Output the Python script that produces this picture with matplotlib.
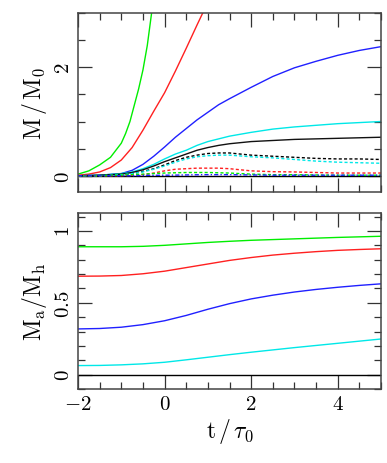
import matplotlib
matplotlib.use("Agg")
import matplotlib.pyplot as plt
from matplotlib.ticker import MultipleLocator, FixedLocator

plt.rcParams['mathtext.fontset'] = 'cm'
plt.rcParams['font.family'] = 'serif'
plt.rcParams['font.serif'] = ['DejaVu Serif']

# top panel: M/M0 (solid = total, dotted = second component)
t_green = [-2.0, -1.75, -1.5, -1.25, -1.0, -0.9, -0.8, -0.7, -0.6, -0.5, -0.4, -0.3, -0.25]
m_green = [0.03, 0.09, 0.2, 0.34, 0.6, 0.78, 1.0, 1.3, 1.6, 1.95, 2.4, 3.0, 3.3]
t_red = [-2.0, -1.75, -1.5, -1.25, -1.0, -0.75, -0.5, -0.25, 0.0, 0.25, 0.5, 0.75, 1.0]
m_red = [0.01, 0.03, 0.07, 0.15, 0.29, 0.52, 0.84, 1.19, 1.53, 1.93, 2.35, 2.78, 3.2]

t = [-2.0, -1.5, -1.0, -0.75, -0.5, -0.25, 0.0, 0.25, 0.5, 0.75, 1.0, 1.25, 1.5,
     2.0, 2.5, 3.0, 3.5, 4.0, 4.5, 5.0]
m_blue = [0.0, 0.01, 0.04, 0.1, 0.21, 0.36, 0.53, 0.71, 0.87, 1.03, 1.17, 1.31, 1.42,
          1.63, 1.83, 1.99, 2.11, 2.22, 2.31, 2.38]
m_cyan = [0.0, 0.01, 0.04, 0.07, 0.13, 0.21, 0.31, 0.4, 0.47, 0.56, 0.63, 0.68, 0.73,
          0.8, 0.86, 0.9, 0.93, 0.96, 0.98, 1.0]
m_black = [0.0, 0.01, 0.03, 0.06, 0.11, 0.18, 0.26, 0.33, 0.4, 0.47, 0.52, 0.56, 0.59,
           0.63, 0.65, 0.67, 0.68, 0.69, 0.70, 0.71]

d_black = [0.0, 0.0, 0.02, 0.04, 0.08, 0.13, 0.2, 0.28, 0.34, 0.38, 0.41, 0.42, 0.42,
           0.38, 0.36, 0.34, 0.32, 0.31, 0.31, 0.30]
d_cyan = [0.0, 0.0, 0.02, 0.04, 0.07, 0.12, 0.18, 0.25, 0.31, 0.35, 0.37, 0.38, 0.38,
          0.35, 0.33, 0.30, 0.27, 0.25, 0.24, 0.23]
d_red = [0.0, 0.0, 0.0, 0.01, 0.02, 0.05, 0.09, 0.12, 0.13, 0.14, 0.14, 0.14, 0.13,
         0.09, 0.075, 0.07, 0.06, 0.05, 0.05, 0.05]
d_green = [0.0, 0.0, 0.01, 0.02, 0.03, 0.04, 0.05, 0.055, 0.06, 0.06, 0.06, 0.055, 0.05,
           0.03, 0.02, 0.02, 0.015, 0.01, 0.01, 0.01]
d_blue = [0.0, 0.0, 0.0, 0.0, 0.005, 0.008, 0.01, 0.012, 0.015, 0.018, 0.02, 0.02, 0.02,
          0.015, 0.01, 0.01, 0.01, 0.01, 0.01, 0.01]

# bottom panel: Ma/Mh
t2 = [-2.0, -1.5, -1.0, -0.5, 0.0, 0.5, 1.0, 1.5, 2.0, 2.5, 3.0, 3.5, 4.0, 4.5, 5.0]
f_green = [0.89, 0.89, 0.89, 0.893, 0.90, 0.91, 0.92, 0.928, 0.935, 0.94, 0.945, 0.95,
           0.955, 0.959, 0.963]
f_red = [0.685, 0.686, 0.69, 0.702, 0.72, 0.745, 0.77, 0.795, 0.815, 0.832, 0.845, 0.856,
         0.865, 0.871, 0.876]
f_blue = [0.318, 0.321, 0.33, 0.348, 0.375, 0.412, 0.455, 0.494, 0.527, 0.553, 0.575, 0.593,
          0.608, 0.621, 0.632]
f_cyan = [0.063, 0.064, 0.068, 0.075, 0.086, 0.103, 0.121, 0.139, 0.156, 0.172, 0.188,
          0.203, 0.218, 0.233, 0.248]

fig = plt.figure(figsize=(3.87, 4.64), dpi=100)
ax1 = fig.add_axes([0.2016, 0.584, 0.7829, 0.3858])
ax2 = fig.add_axes([0.2016, 0.1595, 0.7829, 0.3793])

lw = 1.0
dot = (0, (2.2, 1.6))
ax1.axhline(0, color='black', lw=1.0)
ax1.plot(t_green, m_green, color='#00ee00', lw=lw)
ax1.plot(t_red, m_red, color='#ff2020', lw=lw)
ax1.plot(t, m_blue, color='#2020ff', lw=lw)
ax1.plot(t, m_cyan, color='#00e8e8', lw=lw)
ax1.plot(t, m_black, color='#111111', lw=lw)
ax1.plot(t, d_black, color='black', lw=lw, ls=dot)
ax1.plot(t, d_cyan, color='#00e8e8', lw=lw, ls=dot)
ax1.plot(t, d_red, color='#ff2020', lw=lw, ls=dot)
ax1.plot(t, d_green, color='#00ee00', lw=lw, ls=dot)
ax1.plot(t, d_blue, color='#2020ff', lw=lw, ls=(0, (3, 1.5, 1, 1.5)))

ax2.axhline(0, color='black', lw=1.0)
ax2.plot(t2, f_green, color='#00ee00', lw=lw)
ax2.plot(t2, f_red, color='#ff2020', lw=lw)
ax2.plot(t2, f_blue, color='#2020ff', lw=lw)
ax2.plot(t2, f_cyan, color='#00e8e8', lw=lw)

ax1.set_xlim(-2, 5)
ax1.set_ylim(-0.3, 3)
ax2.set_xlim(-2, 5)
ax2.set_ylim(-0.1, 1.125)

for ax in (ax1, ax2):
    ax.xaxis.set_major_locator(MultipleLocator(2))
    ax.xaxis.set_minor_locator(MultipleLocator(0.5))
    ax.tick_params(which='both', direction='in', top=True, right=True, width=0.9, color='#333333')
    ax.tick_params(which='major', length=10)
    ax.tick_params(which='minor', length=5)
    for s in ax.spines.values():
        s.set_linewidth(1.1)
        s.set_color('#444444')

ax1.yaxis.set_major_locator(FixedLocator([0, 2]))
ax1.yaxis.set_minor_locator(MultipleLocator(0.5))
ax1.set_yticklabels(['$0$', '$2$'], rotation=90, va='center', fontsize=15)
ax1.tick_params(labelbottom=False)

ax2.yaxis.set_major_locator(FixedLocator([0, 0.5, 1]))
ax2.yaxis.set_minor_locator(MultipleLocator(0.1))
ax2.set_yticklabels(['$0$', '$0.5$', '$1$'], rotation=90, va='center', fontsize=15)
ax2.set_xticks([-2, 0, 2, 4])
ax2.set_xticklabels(['$-2$', '$0$', '$2$', '$4$'], fontsize=15)

ax1.set_ylabel(r'$\mathrm{M\,/\,M_0}$', fontsize=17, labelpad=4)
ax2.set_ylabel(r'$\mathrm{M_a/M_h}$', fontsize=17, labelpad=4)
ax2.set_xlabel(r'$\mathrm{t}\,/\,\tau_0$', fontsize=17, labelpad=2)

fig.savefig('out.png', dpi=100)
